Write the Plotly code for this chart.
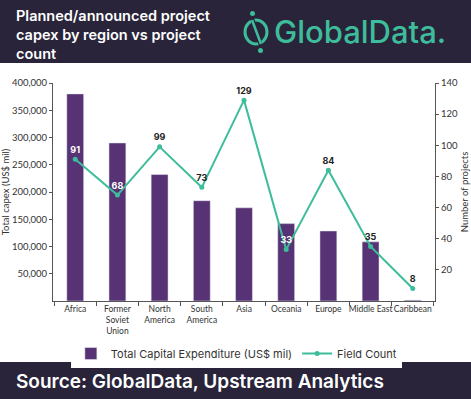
import plotly.graph_objects as go

regions = ["Africa", "Former<br>Soviet<br>Union", "North<br>America", "South<br>America", "Asia",
           "Oceania", "Europe", "Middle East", "Caribbean"]
capex = [380000, 290000, 232000, 184000, 171000, 142000, 128500, 108500, 1500]
field_count = [91, 68, 99, 73, 129, 33, 84, 35, 8]
label_colors = ["white", "white", "#222222", "#222222", "#222222", "white", "#222222", "#222222", "#222222"]
left_ticks = [50000, 100000, 150000, 200000, 250000, 300000, 350000, 400000]
right_ticks = [20, 40, 60, 80, 100, 120, 140]

W, H = 471, 399
L, R, T, B = 53, 36, 83, 98
PW, PH = W - L - R, H - T - B

def px(x):
    return (x - L) / PW

def py(y):
    return (H - B - y) / PH

BAR = "#573274"
TEAL = "#3dbd9b"
DARK = "#29243a"
FONT = "Inter, Lato, sans-serif"
AXFONT = "Lato, sans-serif"

fig = go.Figure()
fig.add_trace(go.Bar(x=regions, y=capex, name="Total Capital Expenditure (US$ mil)",
                     marker_color=BAR, width=0.4, yaxis="y"))
fig.add_trace(go.Scatter(x=regions, y=field_count, name="Field Count", yaxis="y2",
                         mode="lines+markers+text", line=dict(color=TEAL, width=2),
                         marker=dict(size=5, color=TEAL),
                         text=[f"<b>{v}</b>" for v in field_count], textposition="top center",
                         textfont=dict(size=9, color=label_colors, family=FONT)))

shapes = [
    dict(type="rect", xref="paper", yref="paper", x0=px(0), x1=px(W), y0=py(0), y1=py(63),
         fillcolor=DARK, line_width=0, layer="below"),
    dict(type="rect", xref="paper", yref="paper", x0=px(0), x1=px(W), y0=py(362), y1=py(H),
         fillcolor=DARK, line_width=0, layer="below"),
    # logo icon
    dict(type="circle", xref="paper", yref="paper", x0=px(245), x1=px(267), y0=py(20), y1=py(44),
         line=dict(color=TEAL, width=3)),
    dict(type="line", xref="paper", yref="paper", x0=px(252), x1=px(261), y0=py(18), y1=py(46),
         line=dict(color=DARK, width=4)),
    dict(type="line", xref="paper", yref="paper", x0=px(252), x1=px(261), y0=py(20), y1=py(44),
         line=dict(color=TEAL, width=2.5)),
    dict(type="circle", xref="paper", yref="paper", x0=px(250), x1=px(255), y0=py(11), y1=py(16),
         fillcolor=TEAL, line_width=0),
    dict(type="circle", xref="paper", yref="paper", x0=px(258), x1=px(263), y0=py(48), y1=py(53),
         fillcolor=TEAL, line_width=0),
]

annotations = [
    dict(text="Planned/announced project<br>capex by region vs project<br>count", xref="paper", yref="paper",
         x=px(14), y=py(5), xanchor="left", yanchor="top", showarrow=False, align="left",
         font=dict(size=14.5, color="white", family=FONT, weight=600)),
    dict(text="GlobalData.", xref="paper", yref="paper", x=px(272), y=py(31), xanchor="left",
         yanchor="middle", showarrow=False, font=dict(size=31, color=TEAL, family=FONT, weight=500)),
    dict(text="Source: GlobalData, Upstream Analytics", xref="paper", yref="paper", x=px(14), y=py(381),
         xanchor="left", yanchor="middle", showarrow=False,
         font=dict(size=19, color="white", family=FONT, weight=600)),
]

fig.update_layout(
    width=W, height=H, margin=dict(l=L, r=R, t=T, b=B, autoexpand=False),
    paper_bgcolor="white", plot_bgcolor="white",
    font=dict(family=AXFONT, size=9, color="#333333"),
    bargap=0.6, showlegend=True,
    legend=dict(orientation="h", x=0.48, xanchor="center", y=py(339), yanchor="top",
                font=dict(size=11, color="#333333", family=FONT), itemwidth=30, traceorder="normal"),
    xaxis=dict(showline=True, linecolor="#555555", linewidth=1, ticks="outside", tickson="boundaries",
               ticklen=4, tickcolor="#555555", showgrid=False, tickfont=dict(size=8.5),
               tickangle=0, automargin=False),
    yaxis=dict(range=[0, 400000], tickvals=left_ticks, tickformat=",", showline=True,
               linecolor="#555555", ticks="outside", ticklen=3, tickcolor="#555555", showgrid=False,
               title=dict(text="Total capex (US$ mil)", font=dict(size=9.5), standoff=4),
               tickfont=dict(size=9.5), automargin=False),
    yaxis2=dict(range=[0, 140], tickvals=right_ticks, overlaying="y", side="right", showline=True,
                linecolor="#555555", ticks="outside", ticklen=3, tickcolor="#555555", showgrid=False,
                title=dict(text="Number of projects", font=dict(size=9.5), standoff=4),
                tickfont=dict(size=9.5), automargin=False),
    shapes=shapes, annotations=annotations,
)

fig.write_html("out.html", config={"displayModeBar": False},
               post_script="document.body.style.margin='0';document.body.style.padding='0';")
